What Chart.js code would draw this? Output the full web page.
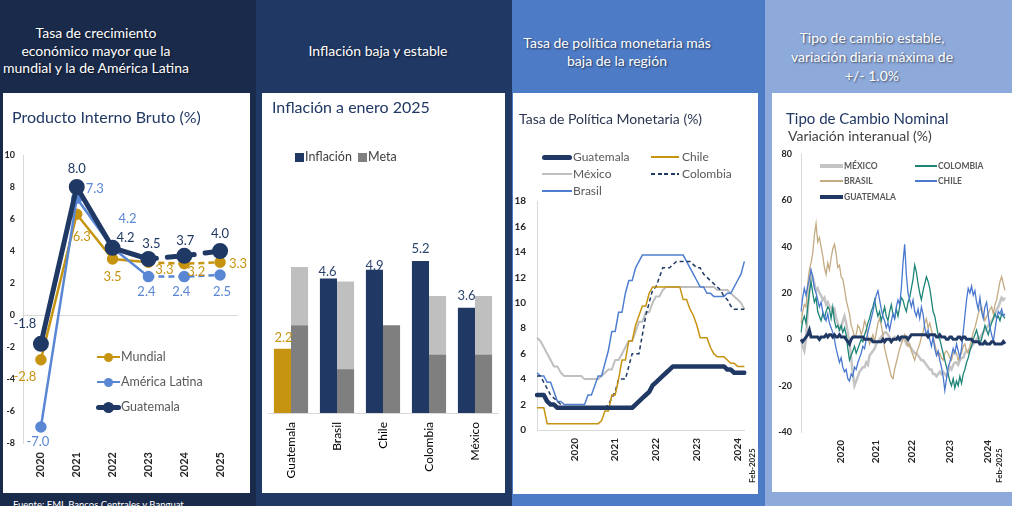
<!DOCTYPE html>
<html lang="es">
<head>
<meta charset="utf-8">
<title>Guatemala: indicadores macroeconómicos</title>
<script src="https://cdn.jsdelivr.net/npm/chart.js@4.4.1/dist/chart.umd.min.js"></script>
<style>
  html, body { margin: 0; padding: 0; }
  body { position: relative; width: 1012px; height: 506px; overflow: hidden; font-family: Lato, 'Open Sans', sans-serif; background: #1a2a4b; }
  .bg, .card, .head, .title, .lg, canvas, .vlabel, .fuente, .mk { position: absolute; }
  .head { color: #fff; text-align: center; font-size: 14px; text-shadow: 1px 1px 2px rgba(0, 0, 0, .6); white-space: nowrap; }
  .card { background: #fff; }
  .title { white-space: nowrap; color: #1f3864; line-height: 20px; }
  .lg { white-space: nowrap; color: #595959; font-size: 12px; line-height: 14px; }
  .vlabel { transform-origin: 0 0; transform: rotate(-90deg); font-size: 8px; font-weight: bold; color: #262626; white-space: nowrap; line-height: 9px; }
  .fuente { color: #fff; font-size: 9.5px; white-space: nowrap; }
</style>
</head>
<body>
<div class="bg" style="left:0;top:0;width:256px;height:506px;background:#1a2a4b"></div>
<div class="bg" style="left:256px;top:0;width:256px;height:506px;background:#203864"></div>
<div class="bg" style="left:512px;top:0;width:253px;height:506px;background:#4e7bc6"></div>
<div class="bg" style="left:765px;top:0;width:247px;height:506px;background:#8eaadb"></div>

<div class="head" style="left:-34px;width:260px;top:24px;line-height:17.5px">Tasa de crecimiento<br>económico mayor que la<br>mundial y la de América Latina</div>
<div class="head" style="left:248px;width:260px;top:42px;line-height:18px">Inflación baja y estable</div>
<div class="head" style="left:487px;width:260px;top:34px;line-height:17.5px">Tasa de política monetaria más<br>baja de la región</div>
<div class="head" style="left:742px;width:260px;top:28px;line-height:19px">Tipo de cambio estable,<br>variación diaria máxima de<br>+/- 1.0%</div>

<div class="card" style="left:3px;top:93px;width:247px;height:400px"></div>
<div class="card" style="left:262px;top:93px;width:243px;height:400px"></div>
<div class="card" style="left:513px;top:93px;width:245px;height:401px"></div>
<div class="card" style="left:772px;top:93px;width:240px;height:399px"></div>

<canvas id="pib" width="247" height="400" style="left:3px;top:93px"></canvas>
<canvas id="infl" width="243" height="400" style="left:262px;top:93px"></canvas>
<canvas id="tpm" width="245" height="401" style="left:513px;top:93px"></canvas>
<canvas id="tc" width="240" height="399" style="left:772px;top:93px"></canvas>

<div class="title" style="left:12px;top:107px;font-size:16px">Producto Interno Bruto (%)</div>
<div class="title" style="left:272px;top:97px;font-size:16px">Inflación a enero 2025</div>
<div class="title" style="left:519px;top:109px;font-size:14px;color:#2a3550">Tasa de Política Monetaria (%)</div>
<div class="title" style="left:786px;top:108px;font-size:15px">Tipo de Cambio Nominal</div>
<div class="title" style="left:788px;top:126px;font-size:14px;color:#3f3f3f">Variación interanual (%)</div>

<div class="vlabel" style="left:748px;top:483px">Feb-2025</div>
<div class="vlabel" style="left:995px;top:483px">Feb-2025</div>

<div class="fuente" style="left:13px;top:499px">Fuente: FMI, Bancos Centrales y Banguat</div>

<script>
// PIB, crecimiento anual (%)
const pibYears = ['2020', '2021', '2022', '2023', '2024', '2025'];
const pibMundial = [-2.8, 6.3, 3.5, 3.3, 3.2, 3.3];
const pibAmericaLatina = [-7.0, 7.3, 4.2, 2.4, 2.4, 2.5];
const pibGuatemala = [-1.8, 8.0, 4.2, 3.5, 3.7, 4.0];

// Inflación a enero 2025 y meta de cada banco central
const inflPaises = ['Guatemala', 'Brasil', 'Chile', 'Colombia', 'México'];
const inflEnero2025 = [2.2, 4.6, 4.9, 5.2, 3.6];
const metaPiso = [3.0, 1.5, 3.0, 2.0, 2.0];
const metaTecho = [5.0, 4.5, 3.0, 4.0, 4.0];

// Tasa de política monetaria, mensual ene-2020 a feb-2025
const tpmGuatemala = [2.75, 2.75, 2.75, 2.25, 2.0, 2.0,
  1.75, 1.75, 1.75, 1.75, 1.75, 1.75, 1.75, 1.75, 1.75, 1.75, 1.75, 1.75,
  1.75, 1.75, 1.75, 1.75, 1.75, 1.75, 1.75, 1.75, 1.75, 1.75, 1.75,
  2.0, 2.25, 2.5, 2.75, 3.0, 3.5, 3.75, 4.0, 4.25, 4.5, 4.75,
  5.0, 5.0, 5.0, 5.0, 5.0, 5.0, 5.0, 5.0, 5.0, 5.0, 5.0, 5.0, 5.0, 5.0, 5.0, 5.0,
  4.75, 4.75, 4.5, 4.5, 4.5, 4.5];
const tpmChile = [1.75, 1.75, 1.75,
  0.5, 0.5, 0.5, 0.5, 0.5, 0.5, 0.5, 0.5, 0.5, 0.5, 0.5, 0.5, 0.5, 0.5, 0.5, 0.5,
  0.75, 1.5, 1.5, 2.75, 2.75, 4.0, 5.5, 5.5, 7.0, 7.0, 8.25, 9.0, 9.75, 9.75, 10.75,
  11.25, 11.25, 11.25, 11.25, 11.25, 11.25, 11.25, 11.25, 11.25,
  10.25, 10.25, 9.5, 9.0, 8.25, 7.25, 7.25, 7.25, 6.5, 6.0, 5.75, 5.75, 5.75, 5.5,
  5.25, 5.25, 5.0, 5.0, 5.0];
const tpmMexico = [7.25, 7.0, 6.5, 6.0, 5.5, 5.0, 5.0, 4.5,
  4.25, 4.25, 4.25, 4.25, 4.25, 4.25, 4.0, 4.0, 4.0, 4.0, 4.0,
  4.25, 4.5, 4.75, 4.75, 5.5, 5.5, 6.0, 6.5, 7.0, 7.0, 7.75, 8.5, 8.5, 9.25, 9.25,
  10.0, 10.5, 10.5, 11.0,
  11.25, 11.25, 11.25, 11.25, 11.25, 11.25, 11.25, 11.25, 11.25, 11.25, 11.25,
  11.25, 11.25, 11.25, 11.25,
  11.0, 11.0, 11.0, 11.0, 10.75, 10.5, 10.25, 10.0, 9.5];
const tpmColombia = [4.25, 4.25, 3.75, 3.25, 2.75, 2.5, 2.25, 2.0,
  1.75, 1.75, 1.75, 1.75, 1.75, 1.75, 1.75, 1.75, 1.75, 1.75, 1.75, 1.75, 1.75,
  2.0, 2.5, 3.0, 4.0, 4.0, 4.0, 5.0, 6.0, 6.0, 6.0, 7.5, 9.0, 10.0, 11.0, 11.25,
  12.0, 12.75, 12.75, 12.75, 13.0,
  13.25, 13.25, 13.25, 13.25, 13.25,
  13.0, 12.75, 12.75, 12.25, 12.0, 11.75, 11.5, 11.25, 11.0, 10.5, 10.25, 9.75,
  9.5, 9.5, 9.5, 9.5];
const tpmBrasil = [4.5, 4.25, 4.25, 3.75, 3.75, 3.0, 2.25, 2.25,
  2.0, 2.0, 2.0, 2.0, 2.0, 2.0, 2.0,
  2.75, 2.75, 3.5, 4.25, 4.25, 5.25, 6.25, 7.75, 7.75, 9.25, 9.25, 10.75, 11.75,
  11.75, 12.75, 13.25,
  13.75, 13.75, 13.75, 13.75, 13.75, 13.75, 13.75, 13.75, 13.75, 13.75, 13.75,
  13.75, 13.75,
  13.25, 12.75, 12.25, 11.75, 11.25, 11.25, 10.75, 10.75,
  10.5, 10.5, 10.5, 10.5, 10.75, 10.75, 11.25, 11.75, 12.25, 13.25];

// Tipo de cambio nominal, variación interanual (%), quincenal ene-2020 a feb-2025
const fxMexico = [0, -3, -5, 0, 12, 22, 29, 27, 24, 21, 22, 20, 19, 17, 18, 15, 16, 14, 14, 12,
  13, 9, 7, 4, 5, 8, 10, 7, 3, -2, -8, -15, -20, -18, -16, -14, -13, -12, -12, -10,
  -11, -7, -6, -5, -4, -2, -1, 0, 1, 2, 3, 3, 2, 1, -1, 0, 1, 0, 1, 0,
  -1, 1, 0, -2, -1, -3, -4, -5, -6, -6, -7, -8, -9, -9, -10, -11, -12, -13, -13, -15,
  -15, -16, -15, -14, -15, -14, -15, -16, -14, -12, -13, -11, -10, -10, -11, -9, -8, -8, -6, -5,
  -5, -4, -3, -2, -1, 0, 1, 0, 2, 3, 4, 5, 6, 7, 8, 9, 11, 13, 14, 16,
  18, 17, 18];
const fxColombia = [3, 8, 10, 7, 14, 20, 25, 20, 16, 18, 12, 10, 8, 11, 9, 12, 14, 13, 9, 14,
  8, 5, 6, 4, 6, 3, 5, 2, -4, -9, -7, -5, -3, -6, -4, -2, 0, -1, 2, 4,
  7, 9, 12, 14, 17, 13, 10, 12, 8, 11, 14, 10, 8, 12, 15, 11, 9, 13, 10, 14,
  18, 17, 14, 12, 16, 18, 22, 26, 32, 29, 24, 20, 17, 21, 24, 27, 25, 22, 17, 12,
  10, 6, 2, 0, -3, -6, -9, -12, -15, -18, -20, -17, -21, -18, -20, -16, -19, -15, -13, -10,
  -8, -5, -3, 0, 2, 4, 1, -2, 0, 3, 6, 4, 2, 5, 7, 9, 11, 9, 10, 8,
  11, 10, 9];
const fxBrasil = [7, 12, 15, 14, 24, 30, 33, 37, 45, 50, 42, 44, 40, 36, 31, 28, 33, 30, 35, 39,
  41, 37, 31, 32, 27, 26, 22, 17, 14, 11, 6, 4, 1, 2, 6, 5, 2, 4, 8, 6,
  1, -2, 0, 2, -1, 3, 7, 9, 6, 2, -4, -7, -10, -13, -16, -17, -13, -10, -7, -4,
  -2, 0, 2, -1, -3, -2, -5, -7, -9, -6, -4, -2, 1, 3, 7, 9, 5, 7, 4, 1,
  -2, -5, -7, -6, -8, -9, -6, -5, -6, -8, -9, -6, -5, -6, -9, -7, -6, -3, -2, -5,
  -6, -3, 0, 3, 5, 8, 11, 13, 14, 11, 8, 10, 11, 13, 14, 11, 15, 17, 21, 25,
  27, 24, 21];
const fxChile = [12, 18, 22, 19, 23, 26, 30, 27, 22, 20, 17, 14, 16, 12, 10, 8, 11, 7, 5, 3,
  0, -4, -7, -10, -8, -12, -14, -13, -17, -18, -15, -16, -12, -13, -10, -8, -6, -3, -4, 0,
  3, 6, 9, 12, 16, 19, 21, 17, 13, 10, 8, 5, 7, 4, 8, 11, 9, 14, 17, 15,
  22, 33, 41, 28, 20, 17, 14, 17, 12, 10, 13, 9, 14, 11, 5, 2, 4, 0, -3, 1,
  -4, -7, -5, -9, -12, -16, -22, -17, -12, -10, -7, -4, -6, -2, -5, -8, -4, 3, 10, 17,
  22, 20, 23, 19, 21, 16, 13, 18, 12, 9, 14, 16, 10, 5, 2, -1, 4, 9, 12, 11,
  13, 10, 11];
const fxGuatemala = [0, -1, 0, 1, 2, 4, 1, 1, 1, 1, 1, 0, 1, 1, 1, 2, 1, 2, 2, 1,
  2, 1, 1, 2, 1, 1, 1, 0, -1, -2, 0, 1, 1, 1, 1, 1, 1, 1, 0, 0,
  0, 0, 0, -1, -1, -1, -1, -1, -1, 0, -1, 0, 0, 0, -1, 0, 0, 0, 1, 0,
  1, 1, 1, 1, 0, 1, 2, 2, 2, 2, 2, 2, 2, 2, 2, 2, 1, 2, 2, 2,
  2, 1, 1, 2, 1, 1, 1, 0, 0, 1, 1, 0, 0, 0, 1, 1, 0, 1, 1, 0,
  0, 0, 0, -1, -1, -1, -1, -2, -2, -2, -1, -2, -2, -2, -1, -1, -2, -2, -2, -2,
  -2, -1, -2];
const fxYearLabels = ['2020', '2021', '2022', '2023', '2024'];
const fxYearAt = [24, 45, 66, 89, 112];

// month / half-month categories
const tpmMeses = [];
for (let y = 2020; y <= 2025; y++) {
  for (let m = 1; m <= 12 && tpmMeses.length < tpmGuatemala.length; m++) {
    tpmMeses.push(y + '-' + String(m).padStart(2, '0'));
  }
}
const fxFechas = [];
tpmMeses.forEach(mes => {
  ['a', 'b'].forEach(q => {
    if (fxFechas.length < fxGuatemala.length) fxFechas.push(mes + q);
  });
});

const NAVY = '#1f3864';
const GOLD = '#c79412';
const BLUE = '#5a87d4';
const GRAY_L = '#bfbfbf';
const GRAY_D = '#7f7f7f';
const AXIS = '#d9d9d9';

Chart.defaults.font.family = "Lato, 'Open Sans', sans-serif";
Chart.defaults.color = '#262626';
Chart.defaults.animation = false;
Chart.defaults.plugins.legend.display = false;
Chart.defaults.plugins.tooltip.enabled = false;

// value labels next to points / on top of bars
const valueLabels = {
  id: 'valueLabels',
  afterDatasetsDraw(chart) {
    const ctx = chart.ctx;
    chart.data.datasets.forEach((ds, di) => {
      const vl = ds.valueLabel;
      if (!vl) return;
      chart.getDatasetMeta(di).data.forEach((el, i) => {
        const off = vl.offsets[i] || [0, -10];
        ctx.save();
        ctx.font = vl.font;
        ctx.fillStyle = Array.isArray(vl.color) ? vl.color[i] : vl.color;
        ctx.textAlign = 'center';
        ctx.textBaseline = 'middle';
        ctx.fillText(ds.data[i].toFixed(1), el.x + off[0], el.y + off[1]);
        ctx.restore();
      });
    });
  }
};

const lblFont = "13px Lato, 'Open Sans', sans-serif";
const dashFrom2023 = dash => ({ borderDash: c => (c.p0DataIndex >= 3 ? dash : undefined) });

new Chart(document.getElementById('pib'), {
  type: 'line',
  data: {
    labels: pibYears,
    datasets: [
      {
        label: 'Guatemala', data: pibGuatemala, borderColor: NAVY, backgroundColor: NAVY,
        borderWidth: 5, pointRadius: 5.5, borderCapStyle: 'round', borderJoinStyle: 'round',
        segment: dashFrom2023([8, 11]),
        valueLabel: { font: lblFont, color: NAVY, offsets: [[-16, -20], [0, -18], [13, -10], [3, -15], [1, -15], [0, -17]] }
      },
      {
        label: 'América Latina', data: pibAmericaLatina, borderColor: BLUE, backgroundColor: BLUE,
        borderWidth: 2.5, pointRadius: 4.5, segment: dashFrom2023([6, 4]),
        valueLabel: { font: lblFont, color: BLUE, offsets: [[-3, 15], [18, -9], [15, -29], [-2, 15], [-3, 15], [2, 17]] }
      },
      {
        label: 'Mundial', data: pibMundial, borderColor: GOLD, backgroundColor: GOLD,
        borderWidth: 2.5, pointRadius: 4.5, segment: dashFrom2023([6, 4]),
        valueLabel: { font: lblFont, color: GOLD, offsets: [[-16, 17], [5, 23], [0, 18], [16, 8], [12, 8], [18, 2]] }
      }
    ]
  },
  options: {
    responsive: false,
    layout: { padding: { top: 62, right: 12, left: 0, bottom: 0 } },
    scales: {
      x: {
        offset: true,
        grid: { display: false, drawTicks: false },
        border: { display: false },
        ticks: { minRotation: 90, maxRotation: 90, padding: 9, font: { size: 11, weight: 'bold' } },
        afterFit: s => { s.height = 50; }
      },
      y: {
        min: -8, max: 10,
        ticks: { stepSize: 2, padding: 8, font: { size: 9, weight: 'bold' } },
        grid: { drawTicks: false, color: c => (c.tick && c.tick.value === 0 ? AXIS : 'transparent') },
        border: { color: AXIS },
        afterFit: s => { s.width = 20; }
      }
    }
  },
  plugins: [valueLabels]
});

new Chart(document.getElementById('infl'), {
  type: 'bar',
  data: {
    labels: inflPaises,
    datasets: [
      {
        label: 'Inflación', data: inflEnero2025, stack: 'inflacion',
        backgroundColor: inflPaises.map(p => (p === 'Guatemala' ? GOLD : NAVY)),
        valueLabel: { font: lblFont, color: inflPaises.map(p => (p === 'Guatemala' ? GOLD : '#2c4470')), offsets: [[1, -11], [-1, -7], [0, -4], [0, -12], [0, -12]] }
      },
      { label: 'Meta', data: metaPiso, stack: 'meta', backgroundColor: GRAY_D },
      { label: 'Meta (rango)', data: metaTecho.map((t, i) => t - metaPiso[i]), stack: 'meta', backgroundColor: GRAY_L }
    ]
  },
  options: {
    responsive: false,
    layout: { padding: { top: 57, left: 6, right: 7, bottom: 0 } },
    datasets: { bar: { categoryPercentage: 0.743, barPercentage: 1, borderWidth: 0 } },
    scales: {
      x: {
        stacked: true,
        grid: { display: false, drawTicks: false },
        border: { color: AXIS },
        ticks: { minRotation: 90, maxRotation: 90, padding: 9, color: '#000', font: { size: 12 } },
        afterFit: s => { s.height = 80; }
      },
      y: { display: false, stacked: true, min: 0, max: 9 }
    }
  },
  plugins: [valueLabels]
});

new Chart(document.getElementById('tpm'), {
  type: 'line',
  data: {
    labels: tpmMeses,
    datasets: [
      { label: 'Guatemala', data: tpmGuatemala, borderColor: NAVY, borderWidth: 4.5, borderCapStyle: 'round', borderJoinStyle: 'round' },
      { label: 'Chile', data: tpmChile, borderColor: GOLD, borderWidth: 1.5 },
      { label: 'Colombia', data: tpmColombia, borderColor: NAVY, borderWidth: 1.5, borderDash: [4, 3] },
      { label: 'Brasil', data: tpmBrasil, borderColor: '#4f7fd0', borderWidth: 1.5 },
      { label: 'México', data: tpmMexico, borderColor: GRAY_L, borderWidth: 2 }
    ]
  },
  options: {
    responsive: false,
    layout: { padding: { top: 108, right: 13, left: 0, bottom: 0 } },
    elements: { point: { radius: 0 }, line: { tension: 0 } },
    scales: {
      x: {
        grid: { display: false, drawTicks: false },
        border: { color: AXIS },
        ticks: {
          autoSkip: false, minRotation: 90, maxRotation: 90, padding: 8,
          font: { size: 10, weight: 'bold' },
          callback: (v, i) => (tpmMeses[i].endsWith('-12') ? tpmMeses[i].slice(0, 4) : null)
        },
        afterFit: s => { s.height = 64; }
      },
      y: {
        min: 0, max: 18,
        ticks: { stepSize: 2, padding: 11, font: { size: 10, weight: 'bold' } },
        grid: { display: false, drawTicks: false },
        border: { color: AXIS },
        afterFit: s => { s.width = 24; }
      }
    }
  }
});

new Chart(document.getElementById('tc'), {
  type: 'line',
  data: {
    labels: fxFechas,
    datasets: [
      { label: 'GUATEMALA', data: fxGuatemala, borderColor: NAVY, borderWidth: 3 },
      { label: 'CHILE', data: fxChile, borderColor: '#4a78cf', borderWidth: 1.3 },
      { label: 'COLOMBIA', data: fxColombia, borderColor: '#1d8577', borderWidth: 1.3 },
      { label: 'BRASIL', data: fxBrasil, borderColor: '#c4ab82', borderWidth: 1.3 },
      { label: 'MÉXICO', data: fxMexico, borderColor: '#c4c4c4', borderWidth: 2.5 }
    ]
  },
  options: {
    responsive: false,
    layout: { padding: { top: 61, right: 7, left: 0, bottom: 0 } },
    elements: { point: { radius: 0 }, line: { tension: 0 } },
    scales: {
      x: {
        grid: { display: false, drawTicks: false },
        border: { display: false },
        ticks: {
          autoSkip: false, minRotation: 90, maxRotation: 90, padding: 8,
          font: { size: 10, weight: 'bold' },
          callback: (v, i) => { const k = fxYearAt.indexOf(i); return k >= 0 ? fxYearLabels[k] : null; }
        },
        afterFit: s => { s.height = 60; }
      },
      y: {
        min: -40, max: 80,
        ticks: { stepSize: 20, padding: 9, font: { size: 9, weight: 'bold' } },
        grid: { display: false, drawTicks: false },
        border: { color: AXIS },
        afterFit: s => { s.width = 29; }
      }
    }
  }
});

// legends drawn as html next to the charts
function legendLine(x1, x2, y, w, color, opt = {}) {
  const d = document.createElement('div');
  d.className = 'mk';
  d.style.left = x1 + 'px';
  d.style.width = (x2 - x1) + 'px';
  d.style.top = (y - w / 2) + 'px';
  d.style.height = w + 'px';
  d.style.background = opt.dash
    ? `repeating-linear-gradient(90deg, ${color} 0 4px, transparent 4px 6.5px)`
    : color;
  if (opt.round) d.style.borderRadius = (w / 2) + 'px';
  document.body.appendChild(d);
}
function legendDot(x, y, r, color) {
  const d = document.createElement('div');
  d.className = 'mk';
  Object.assign(d.style, { left: (x - r) + 'px', top: (y - r) + 'px', width: 2 * r + 'px', height: 2 * r + 'px', borderRadius: '50%', background: color });
  document.body.appendChild(d);
}
function legendBox(x, y, s, color) {
  const d = document.createElement('div');
  d.className = 'mk';
  Object.assign(d.style, { left: x + 'px', top: y + 'px', width: s + 'px', height: s + 'px', background: color });
  document.body.appendChild(d);
}
function legendText(x, y, text, style = {}) {
  const d = document.createElement('div');
  d.className = 'lg';
  d.textContent = text;
  d.style.left = x + 'px';
  d.style.top = (y - 7) + 'px';
  Object.assign(d.style, style);
  document.body.appendChild(d);
}

// PIB
legendLine(97, 120, 357, 2.5, GOLD); legendDot(108, 357, 4.5, GOLD); legendText(121, 357, 'Mundial', { fontSize: '12.5px' });
legendLine(97, 120, 382, 2.5, BLUE); legendDot(108, 382, 4.5, BLUE); legendText(121, 382, 'América Latina', { fontSize: '12.5px' });
legendLine(96, 121, 407, 5, NAVY, { round: true }); legendDot(108, 407, 5.5, NAVY); legendText(121, 407, 'Guatemala', { fontSize: '12.5px' });

// Inflación
legendBox(295, 153, 8.5, NAVY); legendText(305, 157, 'Inflación', { color: '#404040', fontSize: '12.5px' });
legendBox(358, 153, 8.5, GRAY_D); legendText(368, 157, 'Meta', { color: '#404040', fontSize: '12.5px' });

// TPM
legendLine(542, 572, 157, 5, NAVY, { round: true }); legendText(573, 157, 'Guatemala');
legendLine(651, 679, 157, 1.5, GOLD); legendText(682, 157, 'Chile');
legendLine(542, 572, 174, 2, GRAY_L); legendText(573, 174, 'México');
legendLine(651, 679, 174, 1.8, NAVY, { dash: true }); legendText(682, 174, 'Colombia');
legendLine(542, 572, 191, 1.5, '#4f7fd0'); legendText(573, 191, 'Brasil');

// Tipo de cambio
const fxLeg = { fontSize: '8.5px', fontWeight: 'bold', lineHeight: '10px' };
legendLine(820, 843, 166, 3.5, '#c4c4c4'); legendText(844, 168, 'MÉXICO', fxLeg);
legendLine(915, 937, 166, 1.3, '#1d8577'); legendText(938, 168, 'COLOMBIA', fxLeg);
legendLine(820, 843, 181, 1.3, '#c4ab82'); legendText(844, 183, 'BRASIL', fxLeg);
legendLine(915, 937, 181, 1.3, '#4a78cf'); legendText(938, 183, 'CHILE', fxLeg);
legendLine(820, 843, 197, 3.5, NAVY); legendText(844, 199, 'GUATEMALA', fxLeg);
</script>
</body>
</html>
